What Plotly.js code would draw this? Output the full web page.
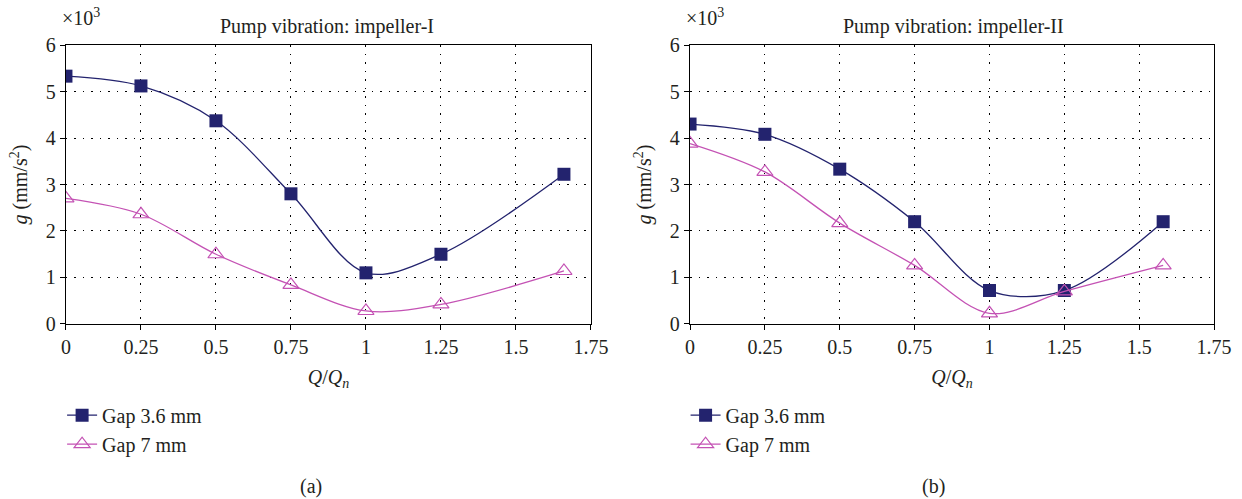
<!DOCTYPE html>
<html><head><meta charset="utf-8">
<script src="https://cdn.plot.ly/plotly-3.0.1.min.js"></script>
<style>html,body{margin:0;padding:0;background:#fff}#c{width:1242px;height:499px}</style>
</head><body><div id="c"></div>
<script>
// Panel (a): impeller-I
const xA = [0, 0.25, 0.5, 0.75, 1, 1.25, 1.66];
const gap36A = [5.33, 5.12, 4.37, 2.80, 1.10, 1.50, 3.22];
const gap7A = [2.70, 2.36, 1.50, 0.84, 0.28, 0.42, 1.14];
// Panel (b): impeller-II
const xB = [0, 0.25, 0.5, 0.75, 1, 1.25, 1.58];
const gap36B = [4.30, 4.08, 3.33, 2.20, 0.72, 0.72, 2.20];
const gap7B = [3.88, 3.27, 2.17, 1.26, 0.23, 0.70, 1.26];
const xTicks = [0, 0.25, 0.5, 0.75, 1, 1.25, 1.5, 1.75];
const xTickText = ["0", "0.25", "0.5", "0.75", "1", "1.25", "1.5", "1.75"];
const yTicks = [0, 1, 2, 3, 4, 5, 6];
const seriesNames = ["Gap 3.6 mm", "Gap 7 mm"];
const titles = ["Pump vibration: impeller-I", "Pump vibration: impeller-II"];

const NAVY = '#23236e', PINK = '#c452b4';
const FONT = '"Liberation Serif", "DejaVu Serif", serif';
const TXT = '#231f20';

function tr(x, y, i, xa, ya, leg) {
  const sq = i === 0;
  return {
    x: x, y: y, name: seriesNames[i], xaxis: xa, yaxis: ya, legend: leg, showlegend: true,
    type: 'scatter', mode: 'lines+markers',
    line: {color: sq ? NAVY : PINK, width: 1.3, shape: 'spline', smoothing: 0.95},
    marker: sq ? {symbol: 'square', size: 13, color: NAVY, line: {width: 0}}
               : {symbol: 'triangle-up-open', size: 14, color: PINK, line: {width: 1.2, color: PINK}}
  };
}
const data = [
  tr(xA, gap36A, 0, 'x', 'y', 'legend'),
  tr(xA, gap7A, 1, 'x', 'y', 'legend'),
  tr(xB, gap36B, 0, 'x2', 'y2', 'legend2'),
  tr(xB, gap7B, 1, 'x2', 'y2', 'legend2')
];

function xax(dom, anchor) {
  return {domain: dom, anchor: anchor, range: [0, 1.75], tickvals: xTicks, ticktext: xTickText,
    showgrid: true, gridcolor: '#000', griddash: '1.5px,7px', gridwidth: 1,
    showline: true, linecolor: '#000', linewidth: 1.3, mirror: true,
    ticks: 'outside', ticklen: 5, tickcolor: '#000', zeroline: false,
    tickfont: {family: FONT, size: 20, color: TXT},
    title: {text: '<i>Q</i>/<i>Q<sub>n</sub></i>', font: {family: FONT, size: 20, color: TXT}, standoff: 12}};
}
function yax(anchor) {
  return {domain: [0.3507, 0.9098], anchor: anchor, range: [0, 6], tickvals: yTicks,
    showgrid: true, gridcolor: '#000', griddash: '1.5px,7px', gridwidth: 1,
    showline: true, linecolor: '#000', linewidth: 1.3, mirror: true,
    ticks: 'outside', ticklen: 5, tickcolor: '#000', zeroline: false,
    tickfont: {family: FONT, size: 20, color: TXT},
    title: {text: '<i>g</i> (mm/s<sup>2</sup>)', font: {family: FONT, size: 20, color: TXT}, standoff: 12}};
}
const ann = (text, x, y, size, extra) => Object.assign({text: text, x: x, y: y, xref: 'paper', yref: 'paper',
  showarrow: false, font: {family: FONT, size: size, color: TXT}}, extra || {});

const layout = {
  width: 1242, height: 499, margin: {l: 0, r: 0, t: 0, b: 0},
  paper_bgcolor: '#fff', plot_bgcolor: '#fff', font: {family: FONT, color: TXT},
  xaxis: xax([0.0531, 0.4758], 'y'), yaxis: yax('x'),
  xaxis2: xax([0.5556, 0.9775], 'y2'), yaxis2: yax('x2'),
  legend: {x: 0.050, y: 0.207, xanchor: 'left', yanchor: 'top', bgcolor: 'rgba(0,0,0,0)',
    font: {family: FONT, size: 20, color: TXT}, tracegroupgap: 0, itemwidth: 30},
  legend2: {x: 0.552, y: 0.207, xanchor: 'left', yanchor: 'top', bgcolor: 'rgba(0,0,0,0)',
    font: {family: FONT, size: 20, color: TXT}, tracegroupgap: 0, itemwidth: 30},
  annotations: [
    ann(titles[0], 0.263, 0.946, 20, {xanchor: 'center', yanchor: 'middle'}),
    ann(titles[1], 0.768, 0.946, 20, {xanchor: 'center', yanchor: 'middle'}),
    ann('×10<sup>3</sup>', 0.048, 0.965, 20, {xanchor: 'left', yanchor: 'middle'}),
    ann('×10<sup>3</sup>', 0.551, 0.965, 20, {xanchor: 'left', yanchor: 'middle'}),
    ann('(a)', 0.25, 0.025, 20, {xanchor: 'center', yanchor: 'middle'}),
    ann('(b)', 0.752, 0.025, 20, {xanchor: 'center', yanchor: 'middle'})
  ]
};
Plotly.newPlot('c', data, layout, {staticPlot: true});
</script></body></html>
